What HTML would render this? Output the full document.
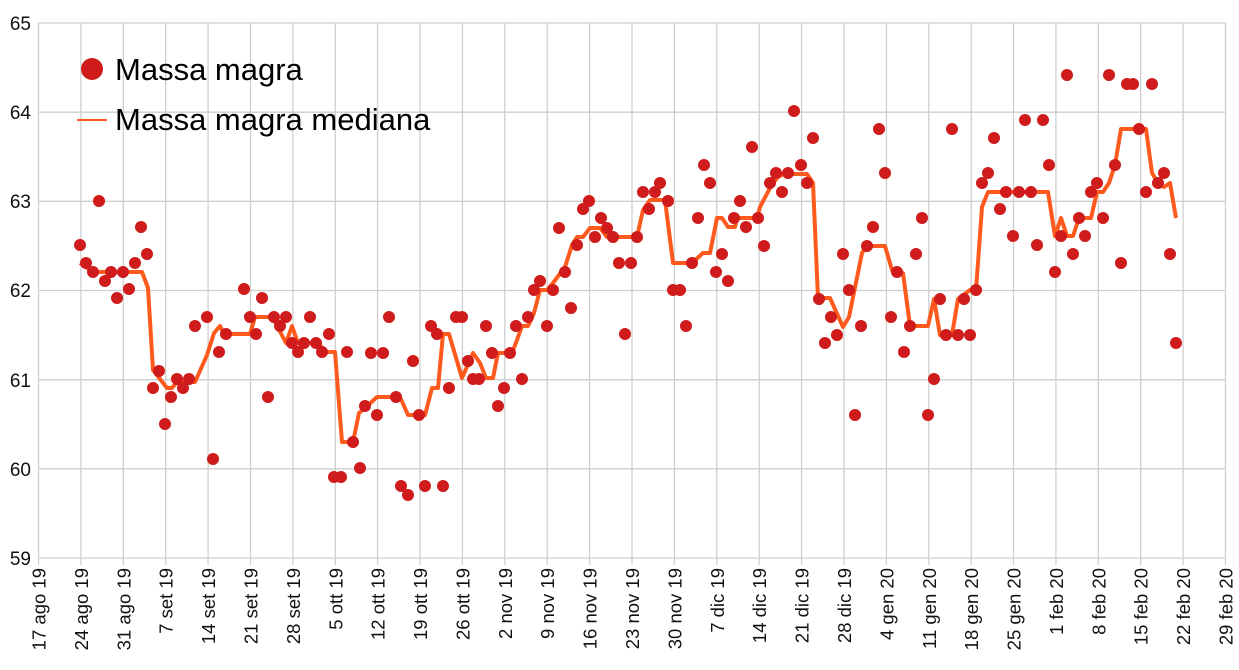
<!DOCTYPE html>
<html><head><meta charset="utf-8"><style>html,body{margin:0;padding:0;background:#fff}svg{display:block}</style></head>
<body>
<svg width="1239" height="670" viewBox="0 0 1239 670" xmlns="http://www.w3.org/2000/svg" font-family="Liberation Sans, Arial, sans-serif">
<path stroke="#cfcfcf" stroke-width="1.3" fill="none" d="M38.5 23H1225.5M38.5 112.2H1225.5M38.5 201.3H1225.5M38.5 290.5H1225.5M38.5 379.7H1225.5M38.5 468.8H1225.5M38.5 558H1225.5
M38.5 23V565M80.9 23V565M123.3 23V565M165.7 23V565M208.1 23V565M250.5 23V565M292.9 23V565M335.3 23V565M377.6 23V565M420 23V565M462.4 23V565M504.8 23V565M547.2 23V565M589.6 23V565M632 23V565M674.4 23V565M716.8 23V565M759.2 23V565M801.6 23V565M844 23V565M886.4 23V565M928.8 23V565M971.2 23V565M1013.5 23V565M1055.9 23V565M1098.3 23V565M1140.7 23V565M1183.1 23V565M1225.5 23V565"/>
<g font-size="19" fill="#111" text-anchor="end">
<text x="31" y="30">65</text><text x="31" y="119">64</text><text x="31" y="208">63</text><text x="31" y="297">62</text><text x="31" y="387">61</text><text x="31" y="476">60</text><text x="31" y="565">59</text>
</g>
<g font-size="18.5" fill="#111" text-anchor="end">
<text transform="translate(45.5,568) rotate(-90)">17 ago 19</text>
<text transform="translate(87.9,568) rotate(-90)">24 ago 19</text>
<text transform="translate(130.3,568) rotate(-90)">31 ago 19</text>
<text transform="translate(172.7,568) rotate(-90)">7 set 19</text>
<text transform="translate(215.1,568) rotate(-90)">14 set 19</text>
<text transform="translate(257.5,568) rotate(-90)">21 set 19</text>
<text transform="translate(299.9,568) rotate(-90)">28 set 19</text>
<text transform="translate(342.3,568) rotate(-90)">5 ott 19</text>
<text transform="translate(384.6,568) rotate(-90)">12 ott 19</text>
<text transform="translate(427,568) rotate(-90)">19 ott 19</text>
<text transform="translate(469.4,568) rotate(-90)">26 ott 19</text>
<text transform="translate(511.8,568) rotate(-90)">2 nov 19</text>
<text transform="translate(554.2,568) rotate(-90)">9 nov 19</text>
<text transform="translate(596.6,568) rotate(-90)">16 nov 19</text>
<text transform="translate(639,568) rotate(-90)">23 nov 19</text>
<text transform="translate(681.4,568) rotate(-90)">30 nov 19</text>
<text transform="translate(723.8,568) rotate(-90)">7 dic 19</text>
<text transform="translate(766.2,568) rotate(-90)">14 dic 19</text>
<text transform="translate(808.6,568) rotate(-90)">21 dic 19</text>
<text transform="translate(851,568) rotate(-90)">28 dic 19</text>
<text transform="translate(893.4,568) rotate(-90)">4 gen 20</text>
<text transform="translate(935.8,568) rotate(-90)">11 gen 20</text>
<text transform="translate(978.2,568) rotate(-90)">18 gen 20</text>
<text transform="translate(1020.5,568) rotate(-90)">25 gen 20</text>
<text transform="translate(1062.9,568) rotate(-90)">1 feb 20</text>
<text transform="translate(1105.3,568) rotate(-90)">8 feb 20</text>
<text transform="translate(1147.7,568) rotate(-90)">15 feb 20</text>
<text transform="translate(1190.1,568) rotate(-90)">22 feb 20</text>
<text transform="translate(1232.5,568) rotate(-90)">29 feb 20</text>
</g>
<polyline fill="none" stroke="#ff5a1e" stroke-width="4" stroke-linejoin="round" points="80,263 93,272 142,272 148,288 153,370 167,388 172,388 177,382 195,382 207,355 214,333 220,326 224,334 250,334 255,317 268,317 274,320 286,343 292,326 298,343 303,343 317,343 327,352 335,352 342,442 353,442 359,413 365,408 377,397 400,397 408,415 425,415 432,388 438,388 443,334 449,334 462,378 473,353 480,363 486,378 493,378 498,353 512,353 517,340 522,326 528,326 534,313 540,290 547,290 553,283 565,267 572,245 577,237 583,237 590,228 600,228 607,237 637,237 643,210 650,200 665,200 673,263 692,263 703,253 710,253 717,218 722,218 728,227 735,227 737,218 757,218 760,207 770,188 777,178 783,174 807,174 813,183 818,298 830,298 843,327 849,317 862,253 867,246 885,246 892,270 903,273 910,326 928,326 934,299 940,335 952,335 958,299 970,290 976,290 982,207 988,192 1048,192 1055,236 1061,218 1067,236 1073,236 1079,218 1091,218 1097,192 1103,192 1109,183 1115,165 1121,129 1146,129 1152,173 1158,183 1164,187 1170,183 1176,218"/>
<path fill="none" stroke="#cf1b1b" stroke-width="12" stroke-linecap="round" d="M80 245h0M86 263h0M93 272h0M99 201h0M105 281h0M111 272h0M117 298h0M123 272h0M129 289h0M135 263h0M141 227h0M147 254h0M159 371h0M153 388h0M171 397h0M165 424h0M177 379h0M183 388h0M189 379h0M195 326h0M207 317h0M213 459h0M219 352h0M226 334h0M244 289h0M250 317h0M256 334h0M262 298h0M268 397h0M274 317h0M280 326h0M286 317h0M292 343h0M298 352h0M304 343h0M310 317h0M316 343h0M322 352h0M329 334h0M334 477h0M341 477h0M347 352h0M353 442h0
M360 468h0M365 406h0M371 353h0M377 415h0M383 353h0M389 317h0M396 397h0M401 486h0M408 495h0M413 361h0M419 415h0M425 486h0M431 326h0M437 334h0M443 486h0M449 388h0M456 317h0M462 317h0M468 361h0M473 379h0M479 379h0M486 326h0M492 353h0M498 406h0M504 388h0M510 353h0M516 326h0M522 379h0M528 317h0M534 290h0M540 281h0M547 326h0M553 290h0M559 228h0M565 272h0M571 308h0M577 245h0M583 209h0M589 201h0M595 237h0M601 218h0M607 228h0M613 237h0M619 263h0M625 334h0M631 263h0M637 237h0M643 192h0M649 209h0M655 192h0M660 183h0
M668 201h0M673 290h0M680 290h0M686 326h0M692 263h0M698 218h0M704 165h0M710 183h0M716 272h0M722 254h0M728 281h0M734 218h0M740 201h0M746 227h0M752 147h0M758 218h0M764 246h0M770 183h0M776 173h0M782 192h0M788 173h0M794 111h0M801 165h0M807 183h0M813 138h0M819 299h0M825 343h0M831 317h0M837 335h0M843 254h0M849 290h0M855 415h0M861 326h0M867 246h0M873 227h0M879 129h0M885 173h0M891 317h0M897 272h0
M904 352h0M910 326h0M916 254h0M922 218h0M928 415h0M934 379h0M940 299h0M946 335h0M952 129h0M958 335h0M964 299h0M970 335h0M976 290h0M982 183h0M988 173h0M994 138h0M1000 209h0M1006 192h0M1013 236h0M1019 192h0M1025 120h0M1031 192h0M1037 245h0M1043 120h0M1049 165h0M1055 272h0M1061 236h0M1067 75h0M1073 254h0M1079 218h0M1085 236h0M1091 192h0M1097 183h0M1103 218h0M1109 75h0M1115 165h0M1121 263h0M1127 84h0M1133 84h0M1139 129h0M1146 192h0M1152 84h0M1158 183h0M1164 173h0M1170 254h0M1176 343h0"/>
<circle cx="92" cy="69" r="11" fill="#cf1b1b"/>
<text x="115" y="80" font-size="31" fill="#000">Massa magra</text>
<line x1="77" y1="120" x2="107" y2="120" stroke="#ff5a1e" stroke-width="2"/>
<text x="115" y="130" font-size="31" fill="#000">Massa magra mediana</text>
</svg>
</body></html>
